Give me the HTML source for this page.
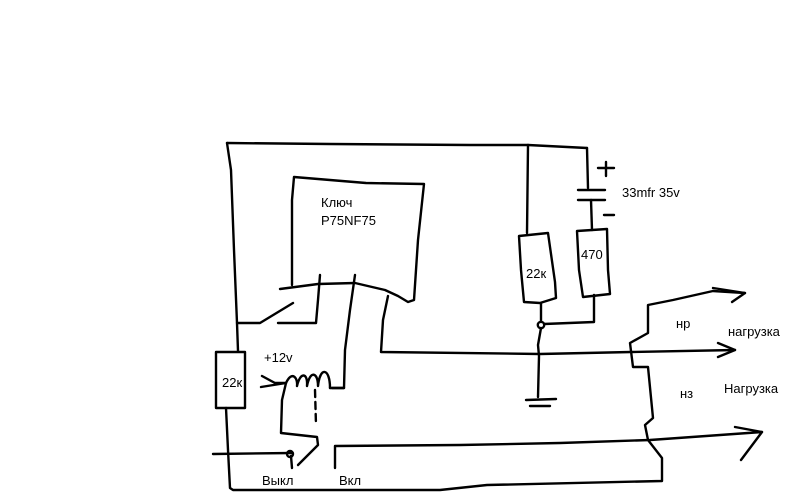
<!DOCTYPE html>
<html><head><meta charset="utf-8"><style>
html,body{margin:0;padding:0;background:#fff;}
svg{display:block}
text{font-family:"Liberation Sans","DejaVu Sans",sans-serif;font-size:13px;fill:#000}
</style></head><body>
<svg width="800" height="500" viewBox="0 0 800 500" xmlns="http://www.w3.org/2000/svg">
<g fill="none" stroke="#000" stroke-width="2.4" stroke-linejoin="round" stroke-linecap="round">
<!-- top wire -->
<polyline points="227,143 330,144 470,145 528,145 587,148"/>
<!-- left outer -->
<polyline points="227,143 231,170 234,250 237,323 260,323 293,303"/>
<polyline points="278,323 316,323 318,300 320,275"/>
<!-- mosfet box -->
<polyline points="292,285 292,200 294,177 366,183 424,184 418,240 414,300 408,302 398,296 385,290 355,283 318,284 280,289"/>
<!-- gate leg -->
<polyline points="355,275 350,310 345,350 344,388 332,388"/>
<!-- right leg -->
<polyline points="388,296 383,320 381,352 540,354 631,352 735,350"/>
<polyline points="718,343 735,350 718,357"/>
<!-- left resistor -->
<polyline points="237,323 238,351"/>
<rect x="216" y="352" width="29" height="56"/>
<polyline points="226,408 228,450 230,488 233,490 330,490 440,490 487,485 662,481 662,458 648,440 645,425 653,418 648,367 633,367 630,343 648,333 648,305 673,300 713,291 745,293"/>
<polyline points="713,288 745,293 732,302"/>
<polyline points="213,454 292,453"/>
<circle cx="290" cy="454" r="3"/>
<polyline points="291,456 292,468"/>
<polyline points="298,465 318,445 317,437 281,433 282,400 286,383"/>
<polyline points="315,390 316,425" stroke-dasharray="7,5"/>
<!-- coil -->
<polyline points="262,376 275,383 286,383 261,387"/>
<path d="M286,383 C292,370 298,378 297,386 C300,372 308,372 307,386 C310,370 318,372 318,386 C320,366 330,368 330,388"/>
<polyline points="330,388 344,388"/>
<!-- Вкл line -->
<polyline points="335,468 335,446 460,445 560,443 650,440 762,432"/>
<polyline points="735,427 762,432 741,460"/>
<!-- right 22k -->
<polyline points="528,145 527,233"/>
<polygon points="519,236 548,233 555,282 556,298 540,303 524,302 521,270"/>
<polyline points="541,303 541,322"/>
<circle cx="541" cy="325" r="3.2"/>
<polyline points="541,328 538,345 539,356 538,397"/>
<polyline points="526,400 556,399"/>
<polyline points="530,406 550,406"/>
<!-- cap -->
<polyline points="587,148 588,188"/>
<polyline points="578,190 605,190"/>
<polyline points="578,200 605,200"/>
<polyline points="598,168 614,168"/>
<polyline points="606,162 606,176"/>
<polyline points="604,215 614,215"/>
<polyline points="591,200 592,230"/>
<polygon points="577,231 607,229 608,270 610,294 583,297 579,270"/>
<polyline points="594,295 594,322 544,324"/>
</g>
<text x="321" y="207">Ключ</text>
<text x="321" y="225">P75NF75</text>
<text x="222" y="387">22к</text>
<text x="264" y="362">+12v</text>
<text x="262" y="485">Выкл</text>
<text x="339" y="485">Вкл</text>
<text x="526" y="278">22к</text>
<text x="581" y="259">470</text>
<text x="622" y="197">33mfr 35v</text>
<text x="676" y="328">нр</text>
<text x="728" y="336">нагрузка</text>
<text x="680" y="398">нз</text>
<text x="724" y="393">Нагрузка</text>
</svg>
</body></html>
